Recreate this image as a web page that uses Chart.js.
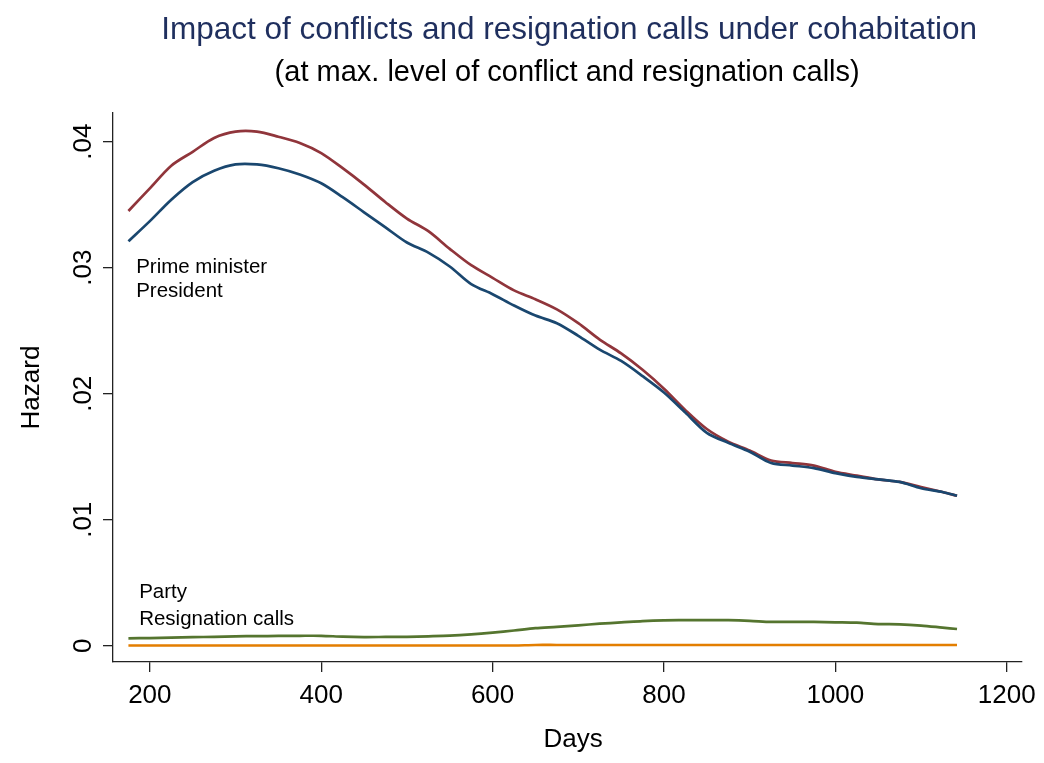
<!DOCTYPE html>
<html>
<head>
<meta charset="utf-8">
<script src="https://cdn.jsdelivr.net/npm/chart.js@4.4.0/dist/chart.umd.min.js"></script>
<style>
    html, body { margin: 0; padding: 0; background: #fff; }
    #wrap { width: 1044px; height: 763px; position: relative; }
</style>
</head>
<body>
<div id="wrap"><canvas id="grafico"></canvas></div>
<script>
// Dados
const days = [175, 200, 225, 250, 275, 300, 325, 350, 375, 400, 425, 450, 475, 500, 525, 550, 575, 600, 625, 650,
    675, 700, 725, 750, 775, 800, 825, 850, 875, 900, 925, 950, 975, 1000, 1025, 1050, 1075, 1100, 1125, 1142];

const primeMinister = [0.0321, 0.0337, 0.0354, 0.0368, 0.0377, 0.0382, 0.0382, 0.0379, 0.0374, 0.0367,
    0.0356, 0.0344, 0.0332, 0.0320, 0.0312, 0.0301, 0.0287, 0.0279, 0.0270, 0.0262,
    0.0256, 0.0246, 0.0235, 0.0226, 0.0214, 0.0201, 0.0185, 0.0169, 0.0161, 0.0154,
    0.0145, 0.0143, 0.0141, 0.0137, 0.0134, 0.0132, 0.0130, 0.0125, 0.0122, 0.0119];

const president = [0.0345, 0.0363, 0.0381, 0.0392, 0.0403, 0.0408, 0.0408, 0.0404, 0.0399, 0.0391,
    0.0379, 0.0366, 0.0352, 0.0339, 0.0329, 0.0315, 0.0302, 0.0292, 0.0282, 0.0275,
    0.0267, 0.0256, 0.0243, 0.0232, 0.0219, 0.0204, 0.0187, 0.0172, 0.0162, 0.0155,
    0.0147, 0.0145, 0.0143, 0.0138, 0.0135, 0.0132, 0.0130, 0.0126, 0.0122, 0.0119];

const party = [0.00059, 0.00061, 0.00064, 0.00068, 0.00071, 0.00075, 0.00076, 0.00078, 0.00079, 0.00079,
    0.00072, 0.00069, 0.00070, 0.00071, 0.00075, 0.00080, 0.00090, 0.00104, 0.00121, 0.00140,
    0.00150, 0.00162, 0.00175, 0.00185, 0.00196, 0.00202, 0.00203, 0.00204, 0.00203, 0.00198,
    0.00189, 0.00190, 0.00189, 0.00186, 0.00183, 0.00172, 0.00170, 0.00160, 0.00144, 0.00133];

const resignationCalls = [0.00002, 0.00002, 0.00002, 0.00002, 0.00002, 0.00002, 0.00002, 0.00002, 0.00002, 0.00002,
    0.00002, 0.00002, 0.00002, 0.00002, 0.00002, 0.00002, 0.00002, 0.00002, 0.00002, 0.00006,
    0.00006, 0.00006, 0.00006, 0.00006, 0.00006, 0.00006, 0.00006, 0.00006, 0.00006, 0.00006,
    0.00006, 0.00006, 0.00006, 0.00006, 0.00006, 0.00006, 0.00006, 0.00006, 0.00006, 0.00006];

const xTicks = [200, 400, 600, 800, 1000, 1200];
const yTicks = [0, 0.01, 0.02, 0.03, 0.04];
const yTickLabels = ['0', '.01', '.02', '.03', '.04'];

const titleText = 'Impact of conflicts and resignation calls under cohabitation';
const subtitleText = '(at max. level of conflict and resignation calls)';

const FONT = '"Liberation Sans", Arial, Helvetica, sans-serif';
const AXIS_COLOR = '#222';

function toPoints(values) {
    return days.map((d, i) => ({ x: d, y: values[i] }));
}

function makeLine(label, values, color) {
    return {
        label: label,
        data: toPoints(values),
        borderColor: color,
        borderWidth: 2.7,
        pointRadius: 0,
        tension: 0.3,
        fill: false
    };
}

// Títulos, rótulos do eixo y e anotações de texto
const textPlugin = {
    id: 'textPlugin',
    afterDraw(chart) {
        const ctx = chart.ctx;
        const area = chart.chartArea;
        const xs = chart.scales.x;
        const ys = chart.scales.y;
        const cx = (area.left + area.right) / 2;

        ctx.save();
        ctx.textAlign = 'center';
        ctx.textBaseline = 'alphabetic';

        ctx.fillStyle = '#1f2f5e';
        ctx.font = `31.5px ${FONT}`;
        ctx.fillText(titleText, cx + 2, 39);

        ctx.fillStyle = '#000';
        ctx.font = `29px ${FONT}`;
        ctx.fillText(subtitleText, cx, 81);

        ctx.font = `26px ${FONT}`;
        ctx.fillText('Days', cx + 6, 747);

        // rótulos do eixo y, girados
        yTicks.forEach((v, i) => {
            const py = ys.getPixelForValue(v);
            ctx.save();
            ctx.translate(91, py);
            ctx.rotate(-Math.PI / 2);
            ctx.fillText(yTickLabels[i], 0, 0);
            ctx.restore();
        });

        ctx.save();
        ctx.translate(39, (area.top + area.bottom) / 2);
        ctx.rotate(-Math.PI / 2);
        ctx.fillText('Hazard', 0, 0);
        ctx.restore();

        // rótulos das séries dentro do gráfico
        ctx.textAlign = 'left';
        ctx.font = `20.5px ${FONT}`;
        const lx = xs.getPixelForValue(184);
        ctx.fillText('Prime minister', lx, ys.getPixelForValue(0.0296));
        ctx.fillText('President', lx, ys.getPixelForValue(0.0277));
        ctx.fillText('Party', lx + 3, ys.getPixelForValue(0.00380));
        ctx.fillText('Resignation calls', lx + 3, ys.getPixelForValue(0.00166));
        ctx.restore();
    }
};

const ctx = document.getElementById('grafico').getContext('2d');

new Chart(ctx, {
    type: 'line',
    data: {
        datasets: [
            makeLine('Prime minister', primeMinister, '#1a476f'),
            makeLine('President', president, '#90353b'),
            makeLine('Party', party, '#55752f'),
            makeLine('Resignation calls', resignationCalls, '#e37e00')
        ]
    },
    options: {
        responsive: true,
        maintainAspectRatio: false,
        animation: false,
        layout: {
            padding: { top: 113, right: 22, bottom: 0, left: 0 }
        },
        plugins: {
            legend: { display: false },
            tooltip: { enabled: false },
            title: { display: false }
        },
        scales: {
            x: {
                type: 'linear',
                min: 157,
                max: 1217,
                afterBuildTicks: (scale) => { scale.ticks = xTicks.map(v => ({ value: v })); },
                afterFit: (scale) => { scale.height = 101; },
                grid: { drawOnChartArea: false, drawTicks: true, tickLength: 10, color: AXIS_COLOR, lineWidth: 1.3 },
                border: { display: true, color: AXIS_COLOR, width: 1.3 },
                ticks: {
                    padding: 8,
                    color: '#000',
                    maxRotation: 0,
                    font: { family: FONT, size: 26 },
                    callback: (v) => String(v)
                }
            },
            y: {
                type: 'linear',
                min: -0.00129,
                max: 0.04228,
                afterBuildTicks: (scale) => { scale.ticks = yTicks.map(v => ({ value: v })); },
                afterFit: (scale) => { scale.width = 113; },
                grid: { drawOnChartArea: false, drawTicks: true, tickLength: 10, color: AXIS_COLOR, lineWidth: 1.3 },
                border: { display: true, color: AXIS_COLOR, width: 1.3 },
                ticks: { display: false }
            }
        }
    },
    plugins: [textPlugin]
});
</script>
</body>
</html>
